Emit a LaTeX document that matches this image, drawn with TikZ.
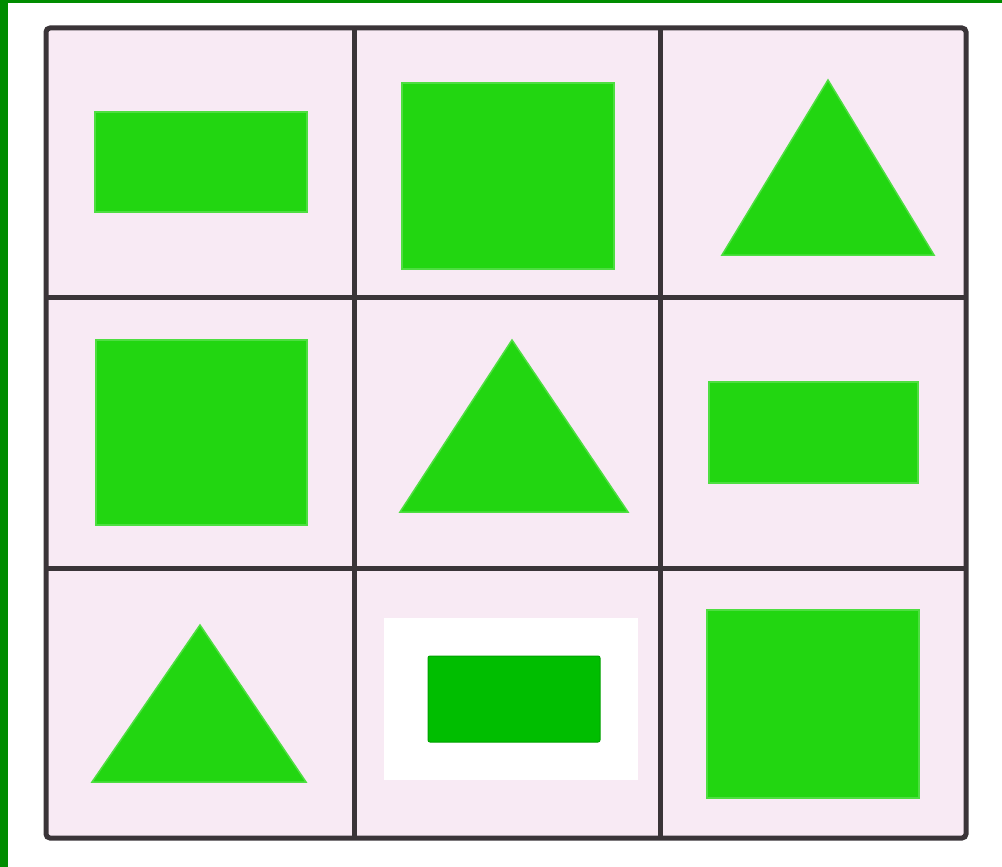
\documentclass[tikz,border=0pt]{standalone}
\begin{document}
\begin{tikzpicture}[x=1pt,y=-1pt,
  gridline/.style={draw=gridgray,line width=5pt},
  shapefill/.style={fill=shapegreen,draw=shapegreen!80!white,line width=1.5pt}]
\definecolor{gridgray}{HTML}{3A3438}
\definecolor{cellpink}{HTML}{F8EAF4}
\definecolor{shapegreen}{HTML}{22D611}
\definecolor{darkgreen}{HTML}{00BE00}
\definecolor{framegreen}{HTML}{008C00}
\useasboundingbox (0,0) rectangle (1002,867);
\fill[white] (0,0) rectangle (1002,867);
% green frame
\fill[framegreen] (0,0) rectangle (8,867);
\fill[framegreen] (0,0) rectangle (1002,3);
% cells background
\fill[cellpink] (46,28) rectangle (966,838);
% row 0
\fill[shapefill] (95,112) rectangle (307,212);
\fill[shapefill] (402,83) rectangle (614,269);
\fill[shapefill] (828,80) -- (934,255) -- (722,255) -- cycle;
% row 1
\fill[shapefill] (96,340) rectangle (307,525);
\fill[shapefill] (512,340) -- (628,512) -- (400,512) -- cycle;
\fill[shapefill] (709,382) rectangle (918,483);
% row 2
\fill[shapefill] (200,625) -- (306,782) -- (92,782) -- cycle;
\fill[white] (384,618) rectangle (638,780);
\fill[darkgreen,draw=darkgreen!85!black,line width=1pt,rounded corners=2pt] (428,656) rectangle (600,742);
\fill[shapefill] (707,610) rectangle (919,798);
% grid
\coordinate (tl) at (46,28);
\coordinate (br) at (966,838);
\draw[gridline,rounded corners=4pt] (tl) rectangle (br);
\draw[gridline] (354,28) -- (354,838);
\draw[gridline] (660,28) -- (660,838);
\draw[gridline] (46,297) -- (966,297);
\draw[gridline] (46,568) -- (966,568);
\end{tikzpicture}
\end{document}
